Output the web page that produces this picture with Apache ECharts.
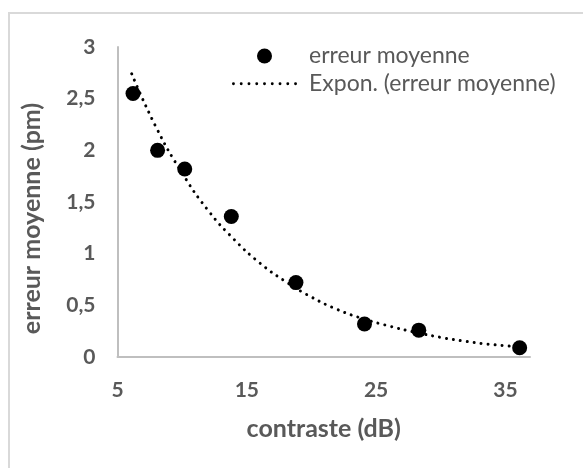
<!DOCTYPE html>
<html>
<head>
<meta charset="utf-8">
<script src="https://cdn.jsdelivr.net/npm/echarts@6/dist/echarts.min.js"></script>
<style>
html,body{margin:0;padding:0;background:#fff;}
#chart{width:583px;height:468px;}
</style>
</head>
<body>
<div id="chart"></div>
<script>
// measured points (contraste dB, erreur moyenne pm)
const contrasteDB = [6.2, 8.1, 10.2, 13.8, 18.8, 24.1, 28.3, 36.1];
const erreurMoyenne = [2.55, 2.00, 1.82, 1.36, 0.72, 0.32, 0.26, 0.09];
// exponential trend line
const trendX = [6.1, 8, 10, 12, 14, 16, 18, 20, 22, 24, 26, 28, 30, 32, 34, 36];
const trendY = [2.74, 2.22, 1.78, 1.42, 1.14, 0.91, 0.73, 0.58, 0.46, 0.37, 0.30, 0.24, 0.19, 0.15, 0.12, 0.10];
const xTicks = [5, 15, 25, 35];
const yTicks = [0, 0.5, 1, 1.5, 2, 2.5, 3];
const seriesNames = ['erreur moyenne', 'Expon. (erreur moyenne)'];

const scatterData = contrasteDB.map((x, i) => [x, erreurMoyenne[i]]);
const trendData = trendX.map((x, i) => [x, trendY[i]]);

const FONT = 'Lato';
const GREY = '#595959';

// dotted legend icon: a row of small round dots
function dotsPath(n, gap, r) {
  let p = 'path://';
  for (let k = 0; k < n; k++) {
    const cx = r + k * gap;
    p += `M${cx - r},${r} a${r},${r} 0 1,0 ${2 * r},0 a${r},${r} 0 1,0 ${-2 * r},0 `;
  }
  return p;
}

const chart = echarts.init(document.getElementById('chart'), null, {renderer: 'canvas'});
chart.setOption({
  backgroundColor: '#ffffff',
  animation: false,
  graphic: [{
    type: 'rect',
    shape: {x: 9, y: 13, width: 600, height: 500},
    style: {fill: 'none', stroke: '#d9d9d9', lineWidth: 2},
    silent: true,
    z: -1
  }],
  grid: {left: 117.5, right: 53, top: 47, bottom: 111, containLabel: false},
  legend: {
    orient: 'vertical',
    left: 232,
    top: 44.5,
    padding: 0,
    itemWidth: 65,
    itemHeight: 15,
    itemGap: 4.8,
    symbolKeepAspect: true,
    textStyle: {fontFamily: FONT, fontSize: 23, color: GREY, lineHeight: 15, padding: [0, 0, 0, 7]},
    data: [
      {name: seriesNames[0], icon: 'circle'},
      {name: seriesNames[1], icon: dotsPath(9, 8, 1.5)}
    ]
  },
  xAxis: {
    type: 'value',
    min: 5,
    max: 36.9,
    interval: 10,
    name: 'contraste (dB)',
    nameLocation: 'middle',
    nameGap: 59,
    nameTextStyle: {fontFamily: FONT, fontSize: 25, fontWeight: 'bold', color: GREY},
    axisLine: {show: true, lineStyle: {color: '#bfbfbf', width: 2}},
    axisTick: {show: false},
    splitLine: {show: false},
    axisLabel: {
      margin: 23,
      fontFamily: FONT, fontSize: 21, fontWeight: 'bold', color: GREY,
      formatter: v => xTicks.includes(v) ? String(v) : ''
    }
  },
  yAxis: {
    type: 'value',
    min: 0,
    max: 3,
    interval: 0.5,
    name: 'erreur moyenne (pm)',
    nameLocation: 'middle',
    nameGap: 73.5,
    nameRotate: 90,
    nameTextStyle: {fontFamily: FONT, fontSize: 25, fontWeight: 'bold', color: GREY, padding: [0, 33, 0, 0]},
    axisLine: {show: true, lineStyle: {color: '#bfbfbf', width: 2}},
    axisTick: {show: false},
    splitLine: {show: false},
    axisLabel: {
      margin: 22,
      fontFamily: FONT, fontSize: 21, fontWeight: 'bold', color: GREY,
      formatter: v => yTicks.includes(v) ? String(v).replace('.', ',') : ''
    }
  },
  series: [
    {
      name: seriesNames[0],
      type: 'scatter',
      data: scatterData,
      symbol: 'circle',
      symbolSize: 15,
      itemStyle: {color: '#000000', opacity: 1},
      z: 3
    },
    {
      name: seriesNames[1],
      type: 'line',
      data: trendData,
      smooth: true,
      symbol: 'none',
      showSymbol: false,
      lineStyle: {color: '#000000', width: 3, type: [0.01, 7], cap: 'round'},
      itemStyle: {color: '#000000'},
      z: 2
    }
  ]
});
</script>
</body>
</html>
